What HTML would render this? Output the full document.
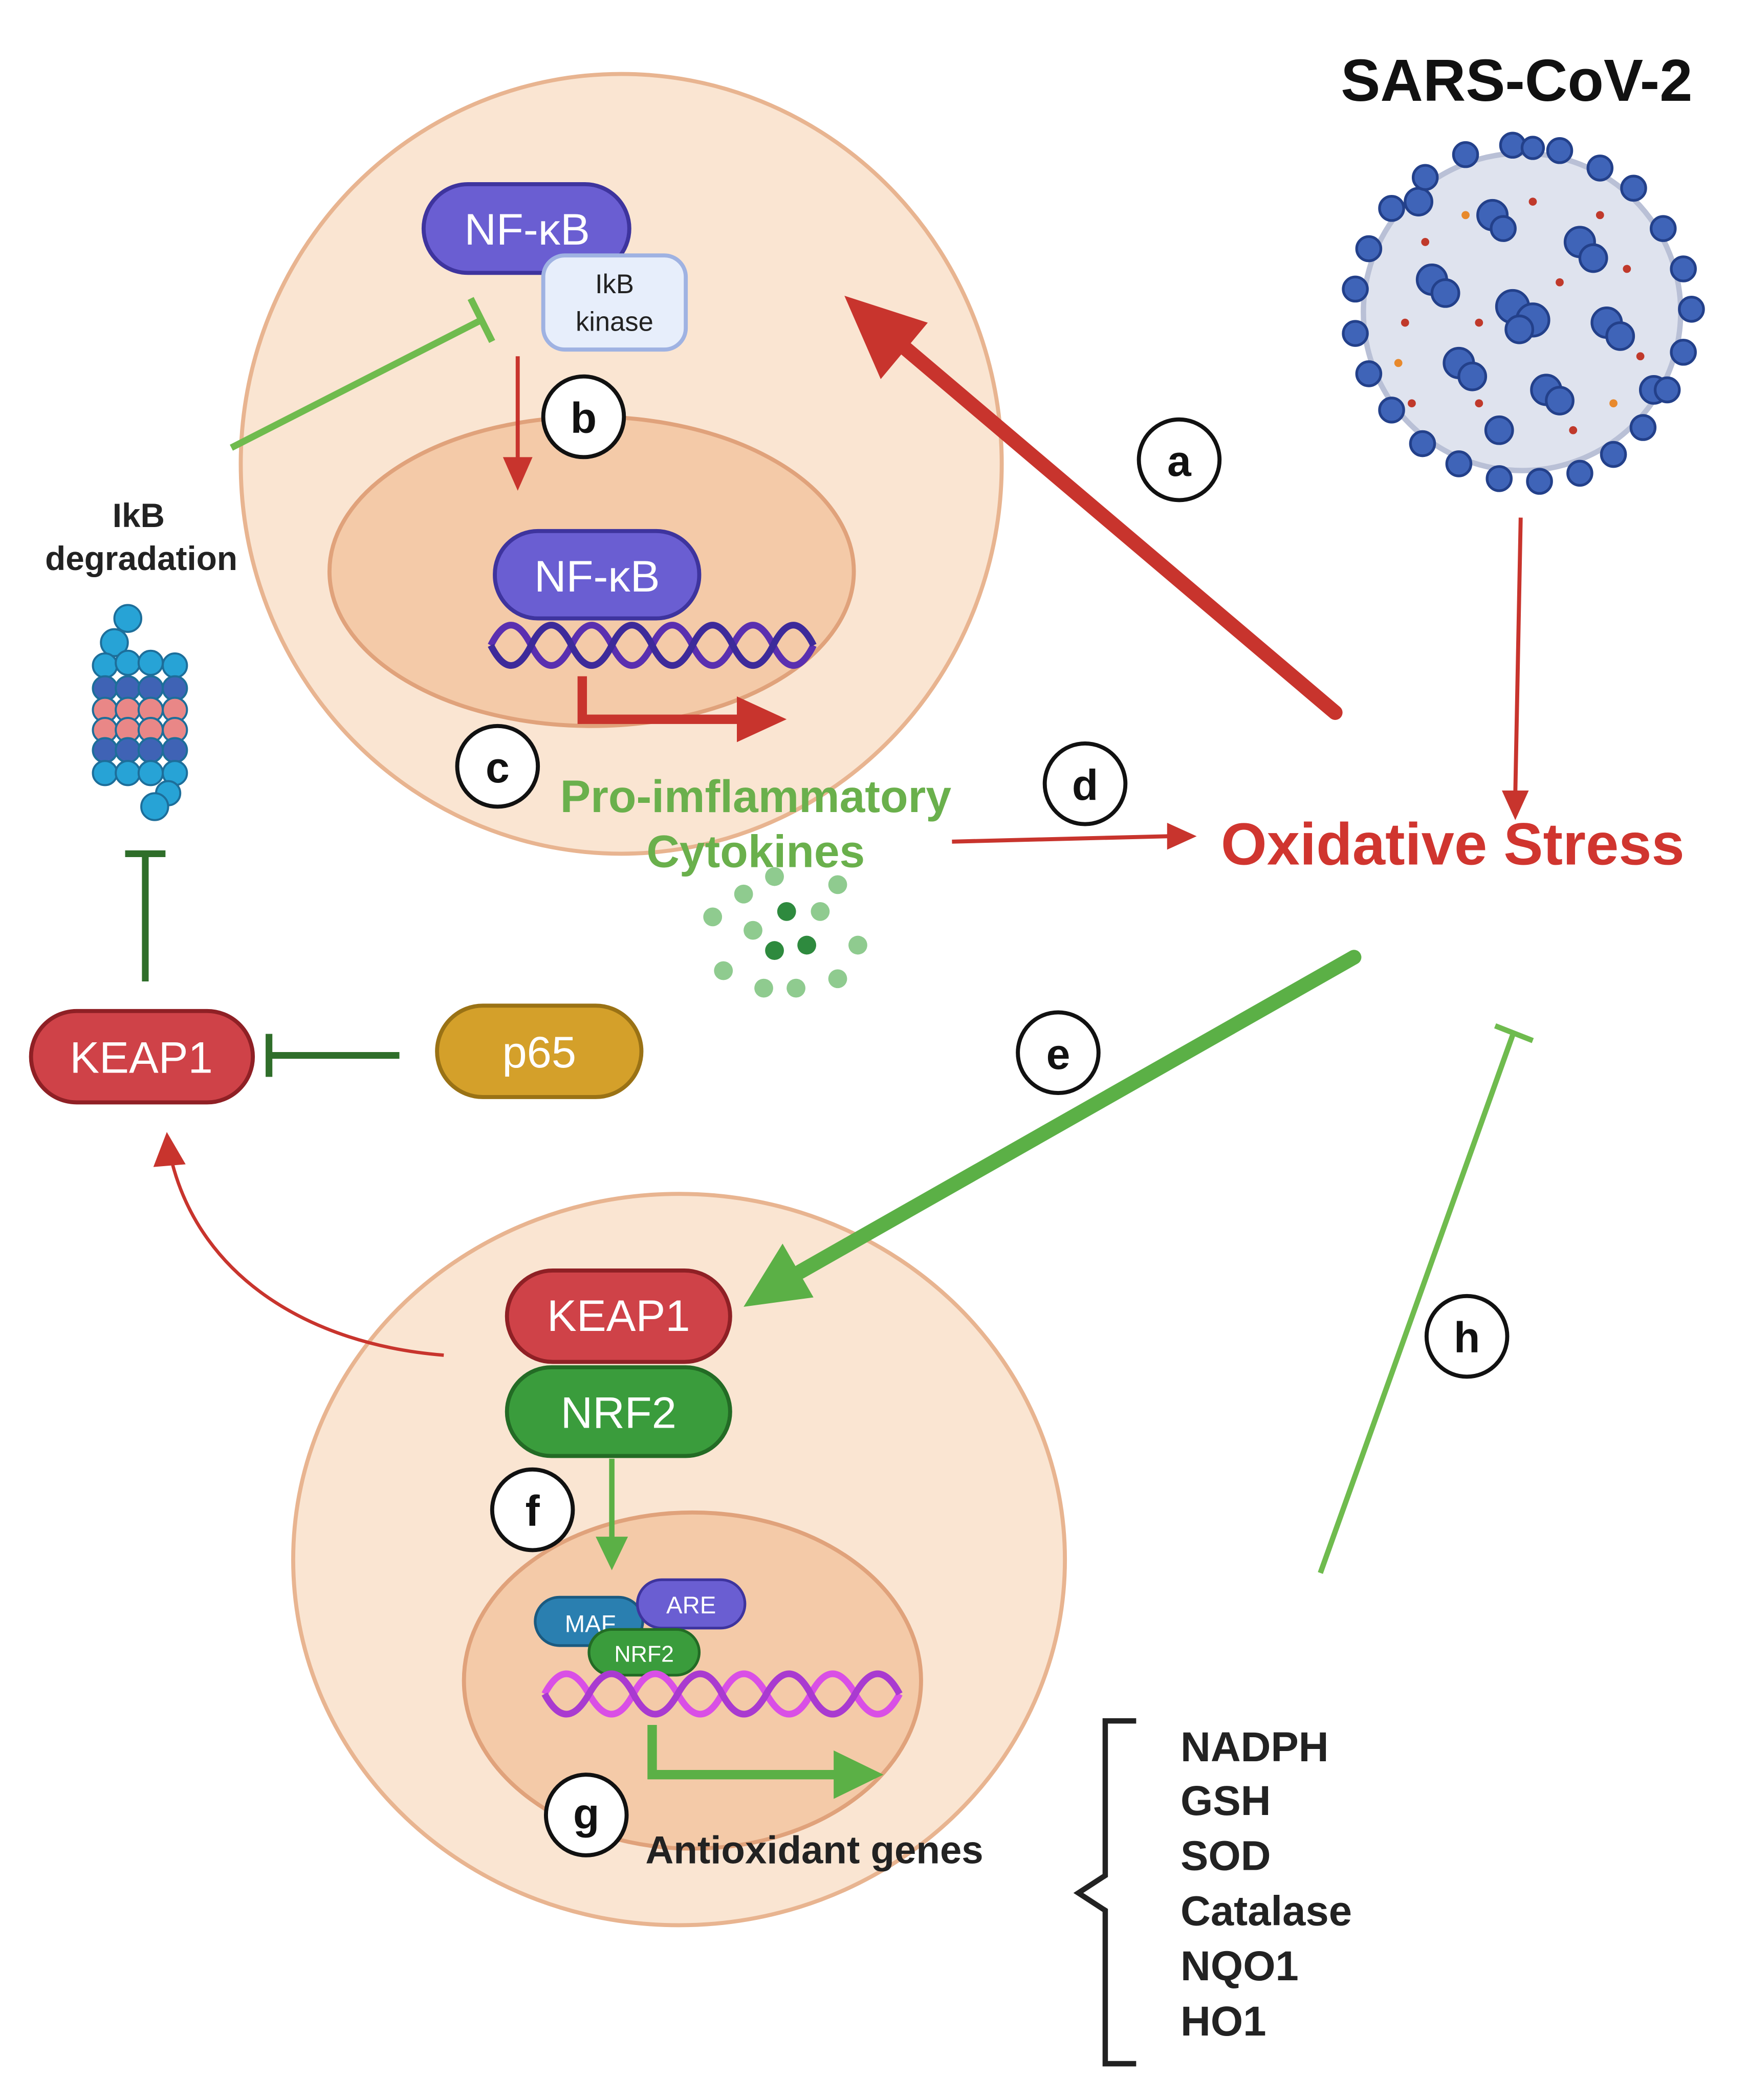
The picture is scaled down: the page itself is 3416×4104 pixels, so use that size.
<!DOCTYPE html>
<html><head><meta charset="utf-8"><style>
html,body{margin:0;padding:0;background:#fff}
svg{display:block}
text{font-family:"Liberation Sans",sans-serif}
</style></head><body>
<svg width="3416" height="4104" viewBox="0 0 1300 1562" xmlns="http://www.w3.org/2000/svg">
<rect width="1300" height="1562" fill="#fff"/>

<!-- top cell -->
<ellipse cx="462" cy="345" rx="283" ry="290" fill="#fae5d2" stroke="#e8b490" stroke-width="3"/>
<ellipse cx="440" cy="425" rx="195" ry="115" fill="#f4caa8" stroke="#e0a27b" stroke-width="3"/>
<rect x="315" y="137" width="153" height="66" rx="33" fill="#6a5ed2" stroke="#3e349e" stroke-width="3"/>
<text x="392" y="182" font-size="33" fill="#fff" text-anchor="middle">NF-κB</text>
<rect x="404" y="190" width="106" height="70" rx="16" fill="#e7eefb" stroke="#9fb2e2" stroke-width="3"/>
<text x="457" y="218" font-size="20" text-anchor="middle" fill="#222">IkB</text>
<text x="457" y="246" font-size="20" text-anchor="middle" fill="#222">kinase</text>
<line x1="172" y1="333" x2="358" y2="238" stroke="#6fbb4e" stroke-width="5"/>
<line x1="350" y1="222" x2="366" y2="254" stroke="#6fbb4e" stroke-width="5"/>
<line x1="385" y1="265" x2="385" y2="345" stroke="#c8342d" stroke-width="3"/>
<polygon points="374,340 396,340 385,365" fill="#c8342d"/>
<rect x="368" y="395" width="152" height="65" rx="32" fill="#6a5ed2" stroke="#3e349e" stroke-width="3"/>
<text x="444" y="440" font-size="33" fill="#fff" text-anchor="middle">NF-κB</text>
<path d="M365,480 q15,-30 30,0 t30,0 t30,0 t30,0 t30,0 t30,0 t30,0 t30,0" fill="none" stroke="#5a2fb0" stroke-width="5"/>
<path d="M365,480 q15,30 30,0 t30,0 t30,0 t30,0 t30,0 t30,0 t30,0 t30,0" fill="none" stroke="#3d2a9a" stroke-width="5"/>
<path d="M433,503 V535 H550" fill="none" stroke="#c8342d" stroke-width="7"/>
<polygon points="548,518 585,535 548,552" fill="#c8342d"/>
<text x="562" y="604" font-size="34" font-weight="bold" fill="#6ab04c" text-anchor="middle">Pro-imflammatory</text>
<text x="562" y="645" font-size="34" font-weight="bold" fill="#6ab04c" text-anchor="middle">Cytokines</text>
<g fill="#8fcb8f">
<circle cx="530" cy="682" r="7"/><circle cx="553" cy="665" r="7"/><circle cx="576" cy="652" r="7"/><circle cx="610" cy="678" r="7"/><circle cx="623" cy="658" r="7"/><circle cx="560" cy="692" r="7"/><circle cx="638" cy="703" r="7"/><circle cx="538" cy="722" r="7"/><circle cx="568" cy="735" r="7"/><circle cx="592" cy="735" r="7"/><circle cx="623" cy="728" r="7"/>
</g>
<g fill="#2e8a3e"><circle cx="585" cy="678" r="7"/><circle cx="576" cy="707" r="7"/><circle cx="600" cy="703" r="7"/></g>

<!-- SARS -->
<text x="1128" y="75" font-size="44" font-weight="bold" text-anchor="middle" fill="#111">SARS-CoV-2</text>
<circle cx="1132" cy="232" r="118" fill="#dfe3ee" stroke="#b9c0d6" stroke-width="4"/>
<g fill="#3f64b8" stroke="#23408a" stroke-width="2">
<circle cx="1125" cy="228" r="12"/><circle cx="1140" cy="238" r="12"/><circle cx="1130" cy="245" r="10"/>
<circle cx="1065" cy="208" r="11"/><circle cx="1075" cy="218" r="10"/>
<circle cx="1175" cy="180" r="11"/><circle cx="1185" cy="192" r="10"/>
<circle cx="1085" cy="270" r="11"/><circle cx="1095" cy="280" r="10"/>
<circle cx="1150" cy="290" r="11"/><circle cx="1160" cy="298" r="10"/>
<circle cx="1195" cy="240" r="11"/><circle cx="1205" cy="250" r="10"/>
<circle cx="1110" cy="160" r="11"/><circle cx="1118" cy="170" r="9"/>
<circle cx="1115" cy="320" r="10"/><circle cx="1230" cy="290" r="10"/><circle cx="1055" cy="150" r="10"/>
</g>
<g fill="#3f64b8" stroke="#23408a" stroke-width="2">
<circle cx="1125" cy="108" r="9"/><circle cx="1140" cy="110" r="8"/><circle cx="1160" cy="112" r="9"/><circle cx="1190" cy="125" r="9"/><circle cx="1215" cy="140" r="9"/><circle cx="1237" cy="170" r="9"/><circle cx="1252" cy="200" r="9"/><circle cx="1258" cy="230" r="9"/><circle cx="1252" cy="262" r="9"/><circle cx="1240" cy="290" r="9"/><circle cx="1222" cy="318" r="9"/><circle cx="1200" cy="338" r="9"/><circle cx="1175" cy="352" r="9"/><circle cx="1145" cy="358" r="9"/><circle cx="1115" cy="356" r="9"/><circle cx="1085" cy="345" r="9"/><circle cx="1058" cy="330" r="9"/><circle cx="1035" cy="305" r="9"/><circle cx="1018" cy="278" r="9"/><circle cx="1008" cy="248" r="9"/><circle cx="1008" cy="215" r="9"/><circle cx="1018" cy="185" r="9"/><circle cx="1035" cy="155" r="9"/><circle cx="1060" cy="132" r="9"/><circle cx="1090" cy="115" r="9"/>
</g>
<g fill="#c0392b"><circle cx="1100" cy="240" r="3"/><circle cx="1160" cy="210" r="3"/><circle cx="1060" cy="180" r="3"/><circle cx="1210" cy="200" r="3"/><circle cx="1170" cy="320" r="3"/><circle cx="1050" cy="300" r="3"/><circle cx="1140" cy="150" r="3"/><circle cx="1045" cy="240" r="3"/><circle cx="1220" cy="265" r="3"/><circle cx="1100" cy="300" r="3"/><circle cx="1190" cy="160" r="3"/></g>
<g fill="#e8892c"><circle cx="1090" cy="160" r="3"/><circle cx="1200" cy="300" r="3"/><circle cx="1040" cy="270" r="3"/></g>
<line x1="1131" y1="385" x2="1127" y2="590" stroke="#c8342d" stroke-width="3"/>
<polygon points="1117,588 1137,588 1127,610" fill="#c8342d"/>

<line x1="993" y1="530" x2="665" y2="252" stroke="#c8342d" stroke-width="11" stroke-linecap="round"/>
<polygon points="628,220 690,240 655,282" fill="#c8342d"/>
<line x1="708" y1="626" x2="870" y2="622" stroke="#c8342d" stroke-width="3"/>
<polygon points="868,612 890,622 868,632" fill="#c8342d"/>
<text x="908" y="643" font-size="44" font-weight="bold" fill="#d0352f">Oxidative Stress</text>

<!-- left -->
<text x="103" y="392" font-size="25" font-weight="bold" text-anchor="middle" fill="#222">IkB</text>
<text x="105" y="424" font-size="25" font-weight="bold" text-anchor="middle" fill="#222">degradation</text>
<g stroke="#1d6e9a" stroke-width="1.5">
<circle cx="95" cy="460" r="10" fill="#27a3d6"/><circle cx="85" cy="478" r="10" fill="#27a3d6"/>
<g fill="#27a3d6"><circle cx="78" cy="495" r="9"/><circle cx="95" cy="493" r="9"/><circle cx="112" cy="493" r="9"/><circle cx="130" cy="495" r="9"/></g>
<g fill="#3f63b5"><circle cx="78" cy="512" r="9"/><circle cx="95" cy="512" r="9"/><circle cx="112" cy="512" r="9"/><circle cx="130" cy="512" r="9"/></g>
<g fill="#e98787"><circle cx="78" cy="528" r="9"/><circle cx="95" cy="528" r="9"/><circle cx="112" cy="528" r="9"/><circle cx="130" cy="528" r="9"/><circle cx="78" cy="543" r="9"/><circle cx="95" cy="543" r="9"/><circle cx="112" cy="543" r="9"/><circle cx="130" cy="543" r="9"/></g>
<g fill="#3f63b5"><circle cx="78" cy="558" r="9"/><circle cx="95" cy="558" r="9"/><circle cx="112" cy="558" r="9"/><circle cx="130" cy="558" r="9"/></g>
<g fill="#27a3d6"><circle cx="78" cy="575" r="9"/><circle cx="95" cy="575" r="9"/><circle cx="112" cy="575" r="9"/><circle cx="130" cy="575" r="9"/><circle cx="125" cy="590" r="9"/></g>
<circle cx="115" cy="600" r="10" fill="#27a3d6"/>
</g>
<line x1="108" y1="730" x2="108" y2="635" stroke="#2f6e2a" stroke-width="5"/>
<line x1="93" y1="635" x2="123" y2="635" stroke="#2f6e2a" stroke-width="5"/>
<rect x="23" y="752" width="165" height="68" rx="34" fill="#cf4248" stroke="#8f2025" stroke-width="3"/>
<text x="105" y="798" font-size="33" fill="#fff" text-anchor="middle">KEAP1</text>
<line x1="297" y1="785" x2="200" y2="785" stroke="#2f6e2a" stroke-width="5"/>
<line x1="200" y1="769" x2="200" y2="801" stroke="#2f6e2a" stroke-width="5"/>
<rect x="325" y="748" width="152" height="68" rx="34" fill="#d4a02a" stroke="#9a7215" stroke-width="3"/>
<text x="401" y="794" font-size="33" fill="#fff" text-anchor="middle">p65</text>

<!-- bottom cell -->
<ellipse cx="505" cy="1160" rx="287" ry="272" fill="#fae5d2" stroke="#e8b490" stroke-width="3"/>
<ellipse cx="515" cy="1250" rx="170" ry="125" fill="#f4caa8" stroke="#e0a27b" stroke-width="3"/>
<path d="M330,1008 C230,1000 150,950 128,865" fill="none" stroke="#c8342d" stroke-width="2.5"/>
<polygon points="114,868 124,842 138,866" fill="#c8342d"/>
<rect x="377" y="945" width="166" height="68" rx="34" fill="#cf4248" stroke="#8f2025" stroke-width="3"/>
<text x="460" y="990" font-size="33" fill="#fff" text-anchor="middle">KEAP1</text>
<rect x="377" y="1017" width="166" height="66" rx="33" fill="#3a9c3c" stroke="#236b25" stroke-width="3"/>
<text x="460" y="1062" font-size="33" fill="#fff" text-anchor="middle">NRF2</text>
<line x1="455" y1="1085" x2="455" y2="1145" stroke="#5bb046" stroke-width="4"/>
<polygon points="443,1143 467,1143 455,1168" fill="#5bb046"/>
<rect x="398" y="1188" width="80" height="36" rx="18" fill="#2a7fb0" stroke="#1a5a80" stroke-width="2"/>
<text x="439" y="1214" font-size="18" fill="#fff" text-anchor="middle">MAF</text>
<rect x="474" y="1175" width="80" height="36" rx="18" fill="#6a5ed2" stroke="#3e349e" stroke-width="2"/>
<text x="514" y="1200" font-size="18" fill="#fff" text-anchor="middle">ARE</text>
<rect x="438" y="1212" width="82" height="34" rx="17" fill="#3a9c3c" stroke="#236b25" stroke-width="2"/>
<text x="479" y="1236" font-size="17" fill="#fff" text-anchor="middle">NRF2</text>
<path d="M405,1260 q16,-30 33,0 t33,0 t33,0 t33,0 t33,0 t33,0 t33,0 t33,0" fill="none" stroke="#d94fe6" stroke-width="5"/>
<path d="M405,1260 q16,30 33,0 t33,0 t33,0 t33,0 t33,0 t33,0 t33,0 t33,0" fill="none" stroke="#a93ad0" stroke-width="5"/>
<path d="M485,1283 V1320 H622" fill="none" stroke="#5bb046" stroke-width="7"/>
<polygon points="620,1302 657,1320 620,1338" fill="#5bb046"/>
<text x="480" y="1386" font-size="29" font-weight="bold" fill="#222">Antioxidant genes</text>

<!-- arrow e on top -->
<line x1="1007" y1="712" x2="595" y2="946" stroke="#5bb046" stroke-width="11" stroke-linecap="round"/>
<polygon points="553,972 582,925 605,965" fill="#5bb046"/>

<line x1="982" y1="1170" x2="1125" y2="770" stroke="#6fbb4e" stroke-width="4"/>
<line x1="1112" y1="763" x2="1140" y2="774" stroke="#6fbb4e" stroke-width="4"/>

<path d="M845,1280 H822 V1395 L802,1408 L822,1421 V1535 H845" fill="none" stroke="#222" stroke-width="4"/>
<g font-size="31" font-weight="bold" fill="#222">
<text x="878" y="1310">NADPH</text><text x="878" y="1350">GSH</text><text x="878" y="1391">SOD</text><text x="878" y="1432">Catalase</text><text x="878" y="1473">NQO1</text><text x="878" y="1514">HO1</text>
</g>

<!-- letter circles -->
<g fill="#fff" stroke="#111" stroke-width="3">
<circle cx="877" cy="342" r="30"/><circle cx="434" cy="310" r="30"/><circle cx="370" cy="570" r="30"/><circle cx="807" cy="583" r="30"/><circle cx="787" cy="783" r="30"/><circle cx="396" cy="1123" r="30"/><circle cx="436" cy="1350" r="30"/><circle cx="1091" cy="994" r="30"/>
</g>
<g font-size="32" font-weight="bold" text-anchor="middle" fill="#111">
<text x="877" y="354">a</text><text x="434" y="322">b</text><text x="370" y="582">c</text><text x="807" y="595">d</text><text x="787" y="795">e</text><text x="396" y="1135">f</text><text x="436" y="1360">g</text><text x="1091" y="1006">h</text>
</g>
</svg>
</body></html>
